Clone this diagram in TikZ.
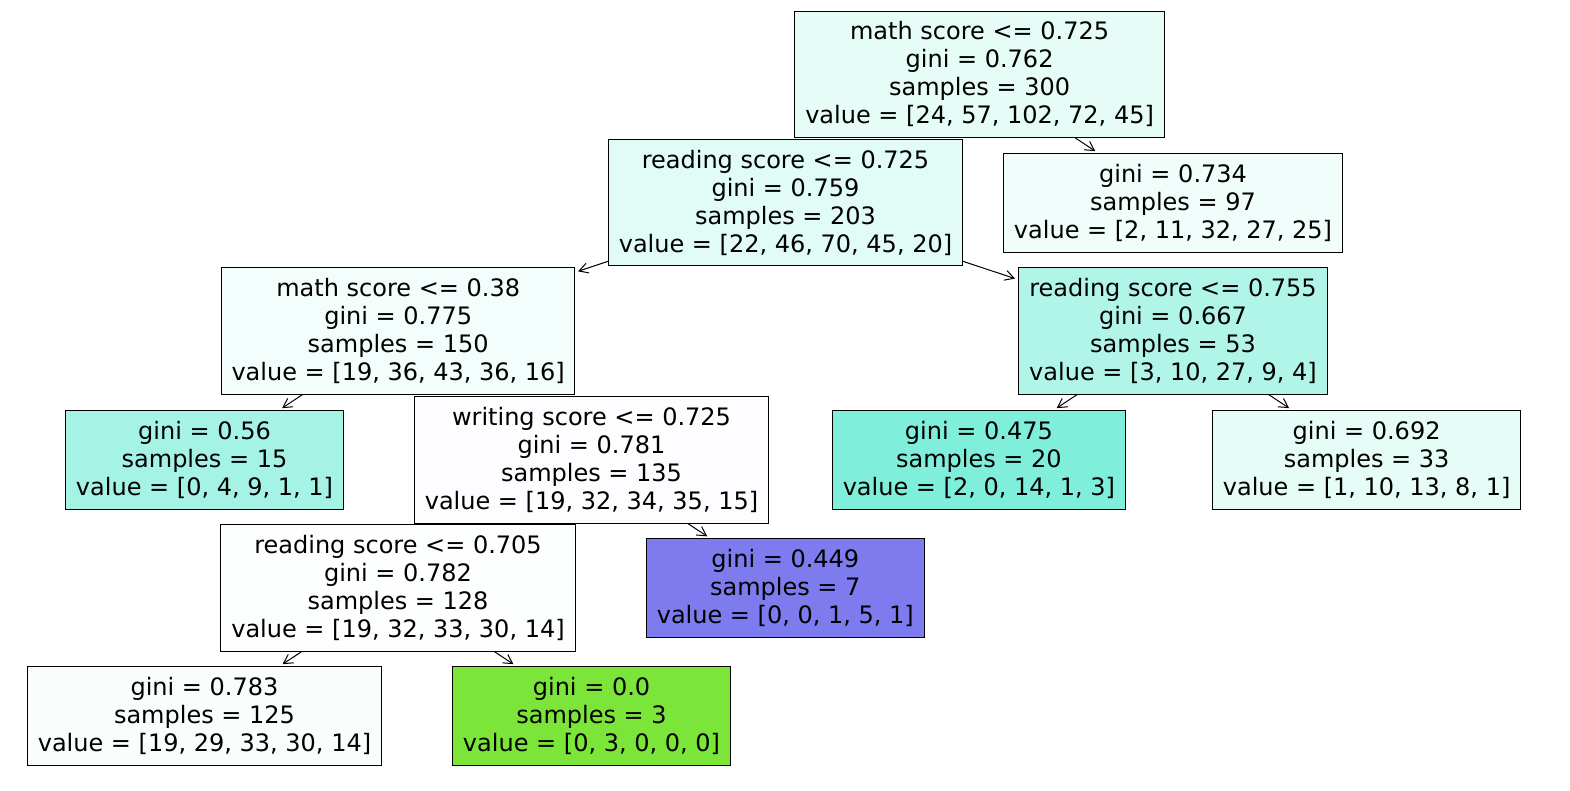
\documentclass[tikz,border=0pt]{standalone}
\usepackage{fontspec}
\setmainfont{DejaVu Sans}
\usetikzlibrary{arrows.meta}
\definecolor{c1}{RGB}{229,252,247}
\definecolor{c2}{RGB}{225,251,246}
\definecolor{c3}{RGB}{241,253,251}
\definecolor{c4}{RGB}{243,253,251}
\definecolor{c5}{RGB}{177,245,232}
\definecolor{c6}{RGB}{165,243,229}
\definecolor{c7}{RGB}{253,253,255}
\definecolor{c8}{RGB}{127,238,218}
\definecolor{c9}{RGB}{229,252,247}
\definecolor{c10}{RGB}{253,255,254}
\definecolor{c11}{RGB}{125,123,238}
\definecolor{c12}{RGB}{249,254,253}
\definecolor{c13}{RGB}{123,229,57}
\tikzset{
  tn/.style={draw=black, line width=1pt, inner sep=0pt, align=center,
    font=\fontsize{24pt}{28pt}\selectfont, text=black},
  h4/.style={minimum height=126.5pt},
  h3/.style={minimum height=99pt},
  edge/.style={-{Straight Barb[length=9pt,width=10pt]}, line width=1pt, shorten >=3pt}
}
\begin{document}
\begin{tikzpicture}[x=1pt,y=-1pt]
\useasboundingbox (0,0) rectangle (1570,790);
\node[tn,h4,fill=c1,minimum width=370.7pt] (n1) at (979.6,74.3) {math score <= 0.725\\gini = 0.762\\samples = 300\\value = [24, 57, 102, 72, 45]};
\node[tn,h4,fill=c2,minimum width=354pt] (n2) at (785.5,202.6) {reading score <= 0.725\\gini = 0.759\\samples = 203\\value = [22, 46, 70, 45, 20]};
\node[tn,h3,fill=c3,minimum width=339.3pt] (n3) at (1173,202.8) {gini = 0.734\\samples = 97\\value = [2, 11, 32, 27, 25]};
\node[tn,h4,fill=c4,minimum width=353pt] (n4) at (398.2,330.8) {math score <= 0.38\\gini = 0.775\\samples = 150\\value = [19, 36, 43, 36, 16]};
\node[tn,h4,fill=c5,minimum width=309.3pt] (n5) at (1173,330.8) {reading score <= 0.755\\gini = 0.667\\samples = 53\\value = [3, 10, 27, 9, 4]};
\node[tn,h3,fill=c6,minimum width=278.4pt] (n6) at (204.5,459.8) {gini = 0.56\\samples = 15\\value = [0, 4, 9, 1, 1]};
\node[tn,h4,fill=c7,minimum width=354pt] (n7) at (591.5,459.8) {writing score <= 0.725\\gini = 0.781\\samples = 135\\value = [19, 32, 34, 35, 15]};
\node[tn,h3,fill=c8,minimum width=293.4pt] (n8) at (978.9,459.8) {gini = 0.475\\samples = 20\\value = [2, 0, 14, 1, 3]};
\node[tn,h3,fill=c9,minimum width=308.2pt] (n9) at (1366.6,459.8) {gini = 0.692\\samples = 33\\value = [1, 10, 13, 8, 1]};
\node[tn,h4,fill=c10,minimum width=355.3pt] (n10) at (398,588) {reading score <= 0.705\\gini = 0.782\\samples = 128\\value = [19, 32, 33, 30, 14]};
\node[tn,h3,fill=c11,minimum width=278.2pt] (n11) at (785.3,588) {gini = 0.449\\samples = 7\\value = [0, 0, 1, 5, 1]};
\node[tn,h3,fill=c12,minimum width=354.4pt] (n12) at (204.5,715.8) {gini = 0.783\\samples = 125\\value = [19, 29, 33, 30, 14]};
\node[tn,h3,fill=c13,minimum width=278.3pt] (n13) at (591.5,715.8) {gini = 0.0\\samples = 3\\value = [0, 3, 0, 0, 0]};
\draw[edge] (n1) -- (n3);
\draw[edge] (n2) -- (n4);
\draw[edge] (n2) -- (n5);
\draw[edge] (n4) -- (n6);
\draw[edge] (n5) -- (n8);
\draw[edge] (n5) -- (n9);
\draw[edge] (n7) -- (n11);
\draw[edge] (n10) -- (n12);
\draw[edge] (n10) -- (n13);
\end{tikzpicture}
\end{document}
